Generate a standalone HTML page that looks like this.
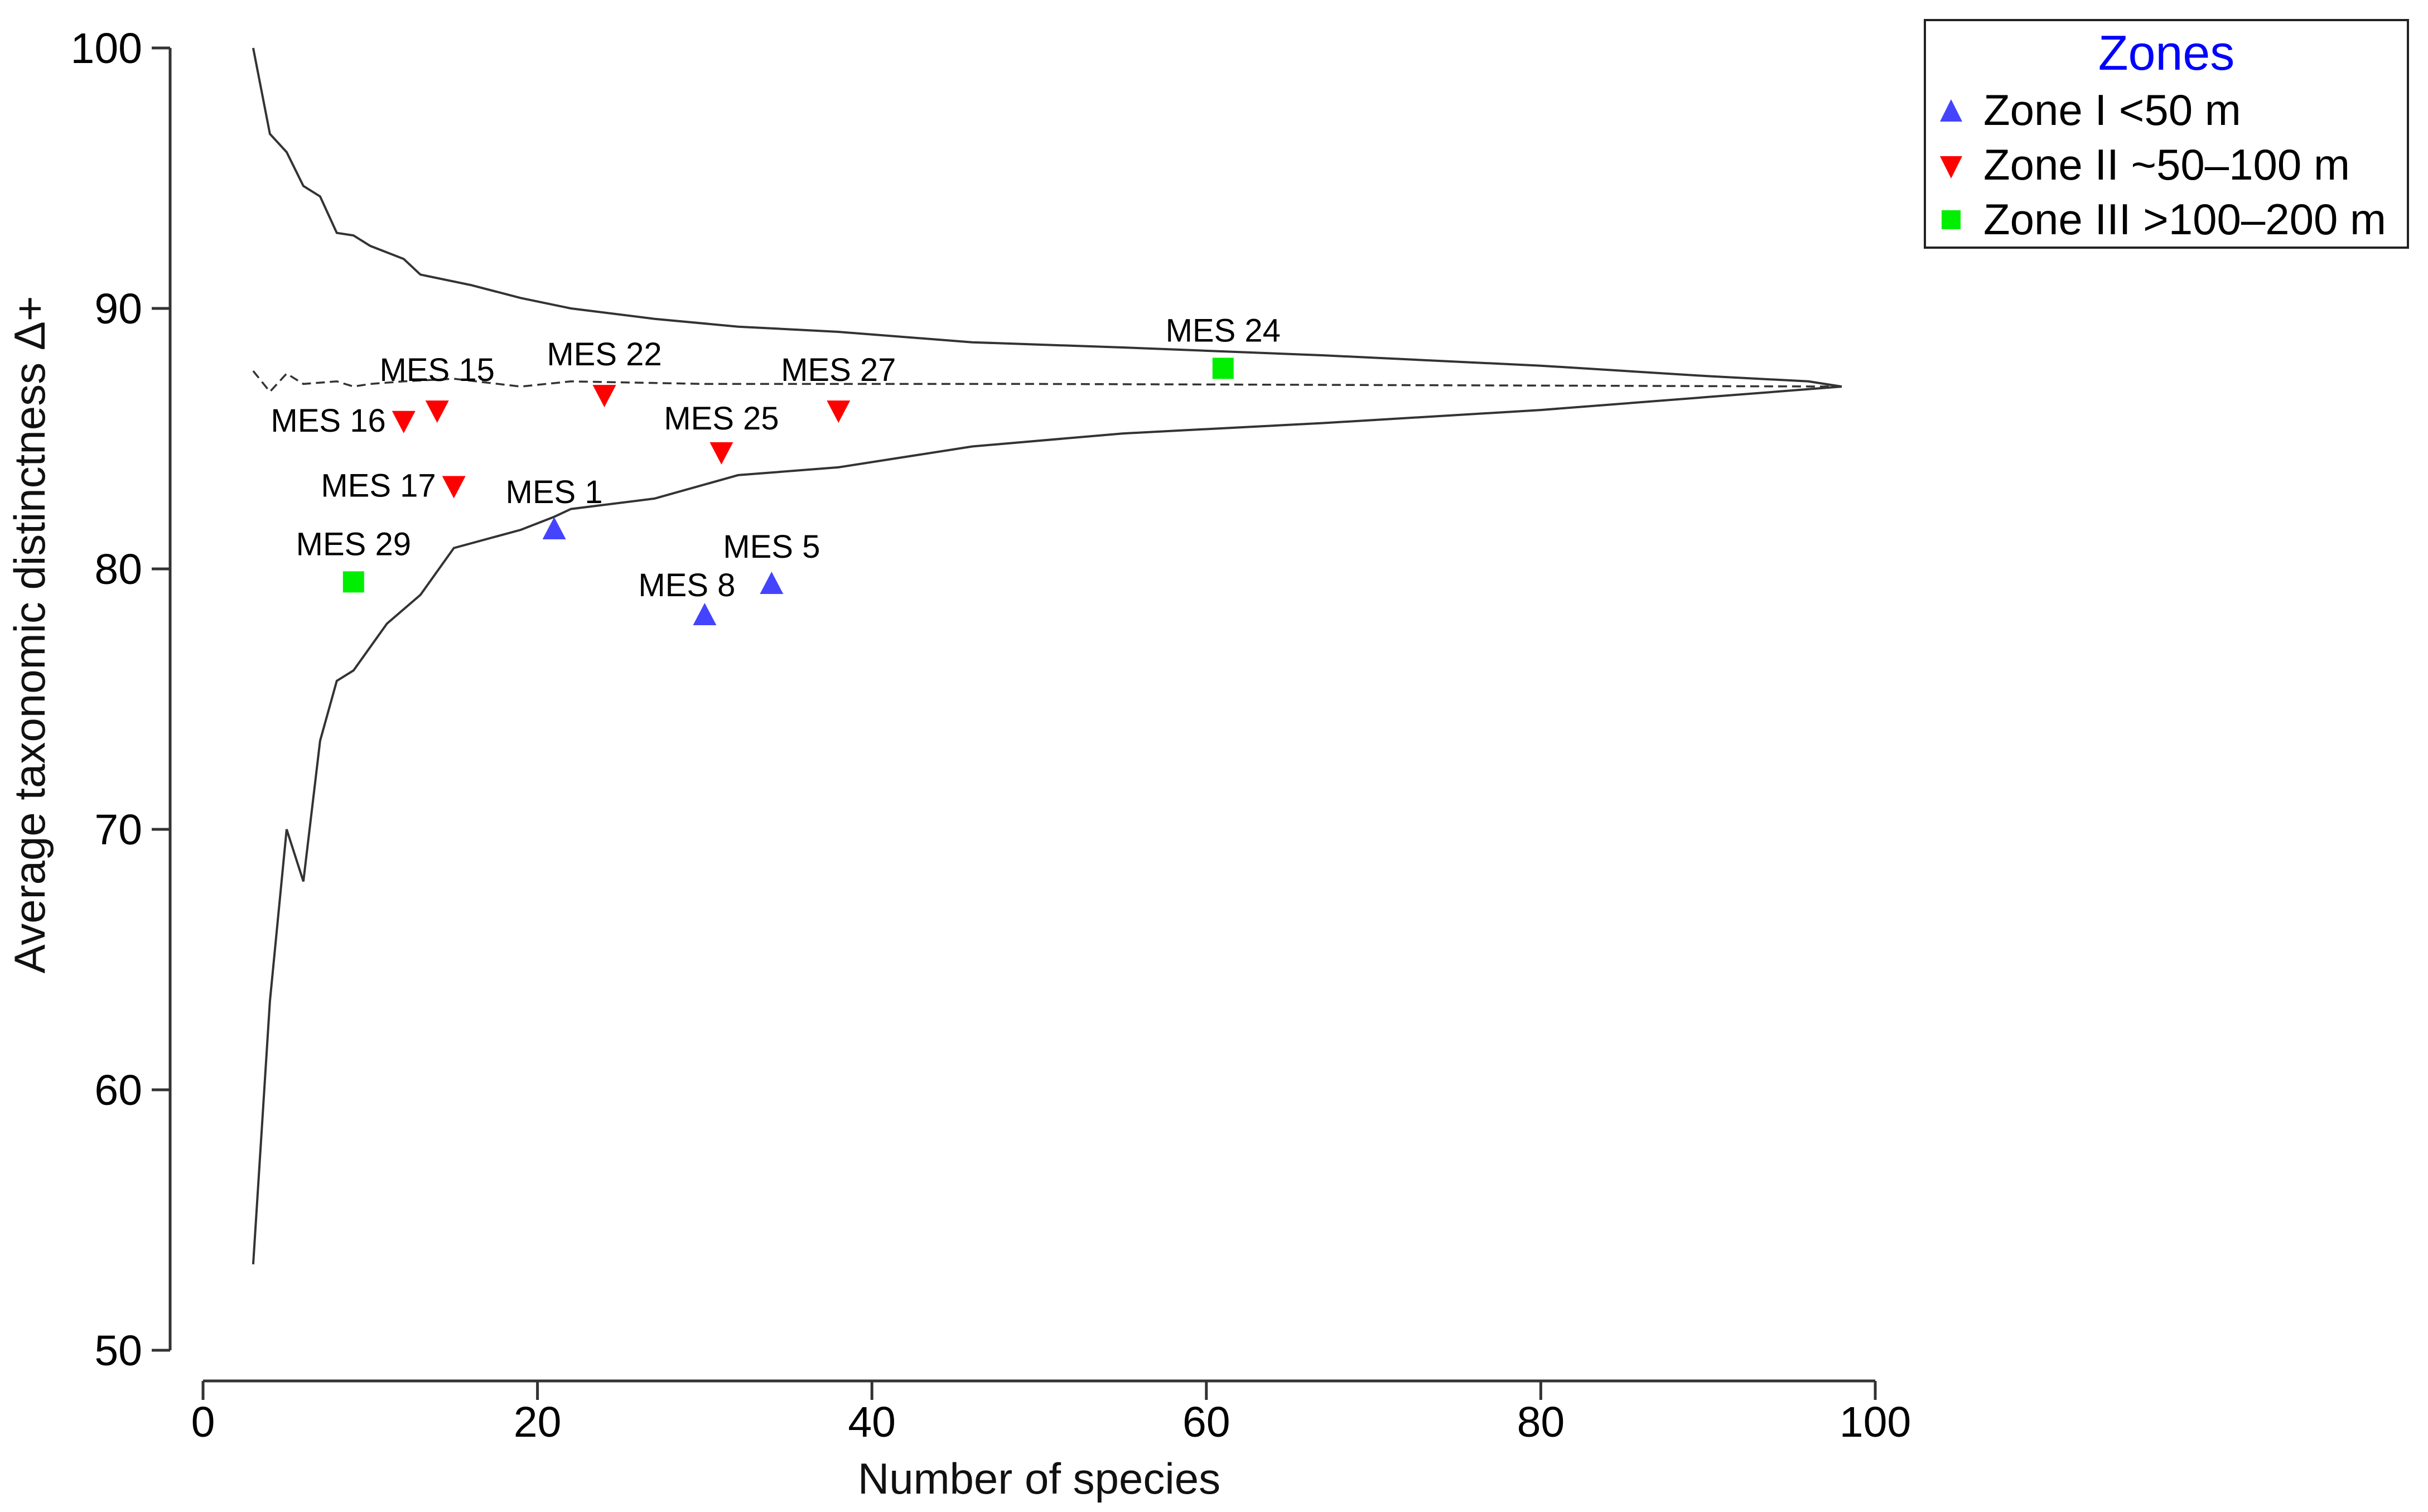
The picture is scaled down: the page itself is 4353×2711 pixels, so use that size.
<!DOCTYPE html>
<html><head><meta charset="utf-8"><style>
html,body{margin:0;padding:0;background:#fff}
svg{display:block;font-family:"Liberation Sans",Arial,sans-serif}
</style></head><body>
<svg id="chart" width="4353" height="2711" viewBox="0 0 4353 2711" xmlns="http://www.w3.org/2000/svg">
<g id="axes"></g>
<g id="curves"></g>
<g id="points"></g>
<text x="1863" y="2678" font-size="78" text-anchor="middle" fill="#111">Number of species</text>
<text transform="translate(80,1138) rotate(-90)" font-size="78" text-anchor="middle" fill="#111">Average taxonomic distinctness Δ+</text>
<g>
<rect x="3451" y="36" width="866" height="408" fill="#fff" stroke="#222" stroke-width="4"/>
<text x="3884" y="125" font-size="88" text-anchor="middle" fill="#0000ff">Zones</text>
<g>
<polygon points="3478,218 3518,218 3498,178" fill="#4444ff"/>
<text x="3556" y="224" font-size="78" fill="#000">Zone I &lt;50 m</text></g>
<g>
<polygon points="3478,280 3518,280 3498,320" fill="#ff0000"/>
<text x="3556" y="322" font-size="78" fill="#000">Zone II ~50–100 m</text></g>
<g>
<rect x="3481" y="377" width="34" height="34" fill="#00ee00"/>
<text x="3556" y="420" font-size="78" fill="#000">Zone III &gt;100–200 m</text></g>
</g>
</svg>
<script>
const xTicks=[0,20,40,60,80,100];
const yTicks=[50,60,70,80,90,100];
const upperX=[3,4,5,6,7,8,9,10,12,13,16,19,22,27,32,38,46,55,67,80,90,96,98];
const upperY=[100,96.7,96.0,94.7,94.3,92.9,92.8,92.4,91.9,91.3,90.9,90.4,90.0,89.6,89.3,89.1,88.7,88.5,88.2,87.8,87.4,87.2,87.0];
const lowerX=[3,4,5,6,7,8,9,11,13,15,19,21,22,27,32,38,46,55,67,80,90,96,98];
const lowerY=[53.3,63.4,70,68,73.4,75.7,76.1,77.9,79.0,80.8,81.5,82.0,82.3,82.7,83.6,83.9,84.7,85.2,85.6,86.1,86.6,86.9,87.0];
const meanX=[3,4,5,6,8,9,10,12,15,19,22,30,50,98];
const meanY=[87.6,86.8,87.5,87.1,87.2,87.0,87.1,87.2,87.3,87.0,87.2,87.1,87.1,87.0];
const ptNames=["MES 1","MES 5","MES 8","MES 15","MES 16","MES 17","MES 22","MES 25","MES 27","MES 24","MES 29"];
const ptSpecies=[21,34,30,14,12,15,24,31,38,61,9];
const ptDelta=[81.5,79.4,78.2,86.1,85.7,83.2,86.7,84.5,86.1,87.7,79.5];
const ptZone=[1,1,1,2,2,2,2,2,2,3,3];
const ptLabelPos=["above","above","left","above","left","left","above","aboveleft","above","above","above"];

const NS="http://www.w3.org/2000/svg";
const X=v=>364+(v/100)*(3362-364);
const Y=v=>2421-((v-50)/50)*(2421-86);
function mk(parent,tag,attrs){const e=document.createElementNS(NS,tag);for(const k in attrs)e.setAttribute(k,attrs[k]);parent.appendChild(e);return e;}
const axes=document.getElementById('axes');
let a=mk(axes,'line',{x1:305,y1:Y(100),x2:305,y2:Y(50),stroke:'#333','stroke-width':5});


a=mk(axes,'line',{x1:X(0),y1:2476,x2:X(100),y2:2476,stroke:'#333','stroke-width':5});


yTicks.forEach(t=>{
  const l=mk(axes,'line',{x1:272,y1:Y(t),x2:305,y2:Y(t),stroke:'#333','stroke-width':5});
  
  
  const tx=mk(axes,'text',{x:255,y:Y(t)+27,'font-size':77,'text-anchor':'end',fill:'#000'});
  tx.textContent=t;
  
  
});
xTicks.forEach(t=>{
  const l=mk(axes,'line',{x1:X(t),y1:2476,x2:X(t),y2:2510,stroke:'#333','stroke-width':5});
  
  
  const tx=mk(axes,'text',{x:X(t),y:2576,'font-size':77,'text-anchor':'middle',fill:'#000'});
  tx.textContent=t;
  
  
});
const curves=document.getElementById('curves');
function path(xs,ys){return xs.map((x,i)=>(i?'L':'M')+X(x).toFixed(1)+','+Y(ys[i]).toFixed(1)).join(' ');}
let p=mk(curves,'path',{d:path(upperX,upperY),fill:'none',stroke:'#333','stroke-width':4});


p=mk(curves,'path',{d:path(lowerX,lowerY),fill:'none',stroke:'#333','stroke-width':4});


p=mk(curves,'path',{d:path(meanX,meanY),fill:'none',stroke:'#333','stroke-width':3.5,'stroke-dasharray':'16,9'});


const pts=document.getElementById('points');
const colors={1:'#4444ff',2:'#ff0000',3:'#00ee00'};
ptNames.forEach((n,i)=>{
  const cx=X(ptSpecies[i]),cy=Y(ptDelta[i]),z=ptZone[i];
  const g=mk(pts,'g',{});
  
  
  if(z===1) mk(g,'polygon',{points:`${cx-21},${cy+17} ${cx+21},${cy+17} ${cx},${cy-23}`,fill:colors[z]});
  else if(z===2) mk(g,'polygon',{points:`${cx-21},${cy-17} ${cx+21},${cy-17} ${cx},${cy+23}`,fill:colors[z]});
  else mk(g,'rect',{x:cx-19,y:cy-19,width:38,height:38,fill:colors[z]});
  let lx=cx,ly=cy-48,anc='middle';
  const pos=ptLabelPos[i];
  if(pos==='left'){lx=cx-32;ly=cy+20;anc='end';}
  if(pos==='aboveleft'){lx=cx;ly=cy-40;anc='middle';}
  if(n==='MES 8'){lx=cx+55;ly=cy-35;anc='end';}
  if(z===2&&pos==='above'){ly=cy-52;}
  const t=mk(g,'text',{x:lx,y:ly,'font-size':58,'text-anchor':anc,fill:'#000'});
  t.textContent=n;
});
</script>
</body></html>
